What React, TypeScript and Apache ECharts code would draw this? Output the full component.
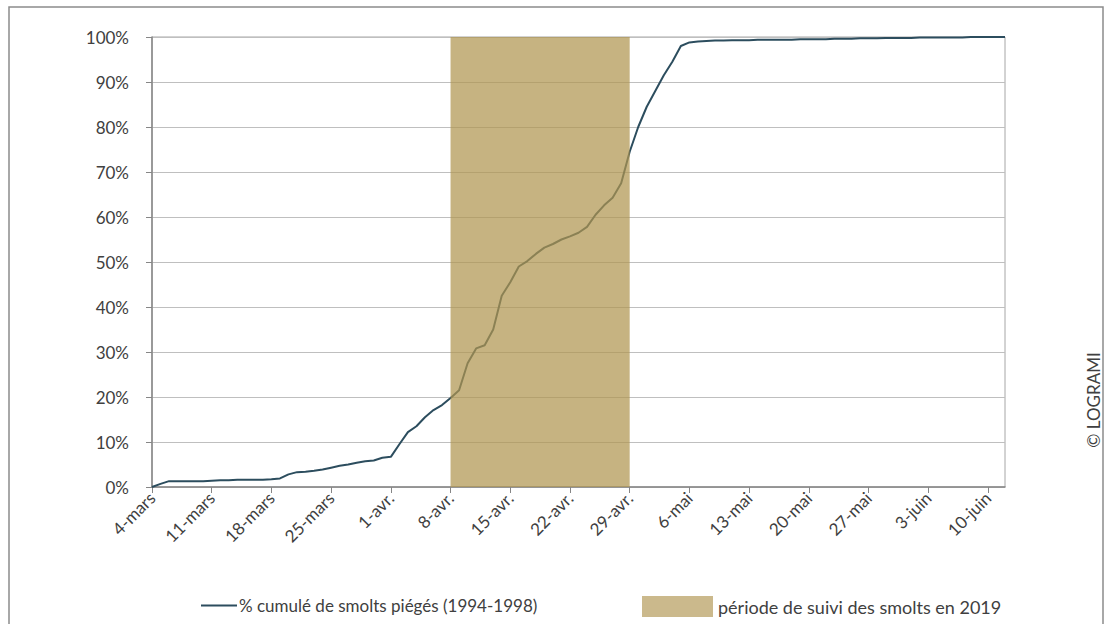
import React, { useEffect, useRef } from "react";
import * as echarts from "echarts";

// Months covered by the x axis (4 mars -> 12 juin)
const monthNames = ["mars", "avr.", "mai", "juin"];
const monthFirstDay = [4, 1, 1, 1];
const monthLastDay = [31, 30, 31, 12];

const categories: string[] = [];
monthNames.forEach((m, i) => {
  for (let d = monthFirstDay[i]; d <= monthLastDay[i]; d++) categories.push(`${d}-${m}`);
});

// Cumulative % of trapped smolts (1994-1998), one value per day
const cumulativePct = [
  0, 0.7, 1.3, 1.3, 1.3, 1.3, 1.3, 1.4, 1.5, 1.5,
  1.6, 1.6, 1.6, 1.6, 1.7, 1.9, 2.8, 3.3, 3.4, 3.6,
  3.9, 4.3, 4.7, 5.0, 5.4, 5.7, 5.9, 6.5, 6.7, 9.5,
  12.2, 13.5, 15.5, 17.1, 18.2, 19.8, 21.5, 27.5, 30.8, 31.5,
  35.0, 42.5, 45.5, 49.0, 50.2, 51.8, 53.2, 54.0, 55.0, 55.7,
  56.5, 57.8, 60.5, 62.6, 64.3, 67.5, 74.5, 80.0, 84.5, 88.0,
  91.5, 94.5, 98.0, 98.8, 99.0, 99.1, 99.2, 99.2, 99.3, 99.3,
  99.3, 99.4, 99.4, 99.4, 99.4, 99.4, 99.5, 99.5, 99.5, 99.5,
  99.6, 99.6, 99.6, 99.7, 99.7, 99.7, 99.8, 99.8, 99.8, 99.8,
  99.9, 99.9, 99.9, 99.9, 99.9, 99.9, 100, 100, 100, 100,
  100,
];

const bandStart = "8-avr.";
const bandEnd = "29-avr.";

const lineName = "% cumulé de smolts piégés (1994-1998)";
const bandName = "période de suivi des smolts en 2019";

const FONT = "Lato, 'Liberation Sans', sans-serif";
const TEXT = "#404040";
const LINE_COLOR = "#2c4d5e";
const BAND_COLOR = "rgba(176,150,80,0.72)";
const BAND_SOLID = "#cbb98c";

export default function App() {
  const ref = useRef<HTMLDivElement>(null);
  useEffect(() => {
    if (!ref.current) return;
    const chart = echarts.init(ref.current, undefined, { renderer: "svg" });
    chart.setOption({
      animation: false,
      backgroundColor: "#ffffff",
      textStyle: { fontFamily: FONT },
      grid: {
        left: 152,
        right: 100,
        top: 37,
        bottom: 137,
        show: true,
        borderColor: "#a6a6a6",
        borderWidth: 1,
      },
      xAxis: {
        type: "category",
        data: categories,
        boundaryGap: false,
        axisLine: { lineStyle: { color: "#868686", width: 1.5 } },
        axisTick: { interval: 6, length: 6, lineStyle: { color: "#868686" } },
        axisLabel: {
          interval: 6,
          rotate: 45,
          margin: 8,
          fontSize: 17,
          color: TEXT,
          fontFamily: FONT,
        },
        splitLine: { show: false },
      },
      yAxis: {
        type: "value",
        min: 0,
        max: 100,
        interval: 10,
        axisLine: { show: true, lineStyle: { color: "#868686", width: 1.5 } },
        axisTick: { show: true, length: 6, lineStyle: { color: "#868686" } },
        axisLabel: {
          formatter: "{value}%",
          fontSize: 17,
          color: TEXT,
          margin: 23,
          fontFamily: FONT,
        },
        splitLine: { lineStyle: { color: "#bfbfbf", width: 1 } },
      },
      legend: [
        {
          data: [{ name: lineName, icon: "rect", itemStyle: { color: LINE_COLOR } }],
          left: 196,
          top: 592,
          itemWidth: 36,
          itemHeight: 2,
          itemGap: 2,
          textStyle: { fontSize: 17, color: TEXT, fontFamily: FONT, padding: [0, 0, 0, -3] },
          selectedMode: false,
        },
        {
          data: [{ name: bandName, icon: "rect", itemStyle: { color: BAND_SOLID } }],
          left: 637,
          top: 591,
          itemWidth: 71,
          itemHeight: 21,
          textStyle: { fontSize: 18, color: TEXT, fontFamily: FONT },
          selectedMode: false,
        },
      ],
      series: [
        {
          name: lineName,
          type: "line",
          data: cumulativePct,
          showSymbol: false,
          symbol: "none",
          lineStyle: { color: LINE_COLOR, width: 2 },
          itemStyle: { color: LINE_COLOR },
          z: 2,
        },
        {
          name: bandName,
          type: "line",
          data: [],
          showSymbol: false,
          itemStyle: { color: BAND_SOLID },
          lineStyle: { color: BAND_SOLID },
          z: 5,
          markArea: {
            silent: true,
            z: 5,
            itemStyle: { color: BAND_COLOR },
            data: [[{ xAxis: bandStart }, { xAxis: bandEnd }]],
          },
        },
      ],
      graphic: [
        {
          type: "rect",
          silent: true,
          shape: { x: 9, y: 7, width: 1094, height: 625 },
          style: { fill: "none", stroke: "#8c8c8c", lineWidth: 1.5 },
          z: 0,
        },
        {
          type: "text",
          x: 1093,
          y: 400,
          rotation: Math.PI / 2,
          style: {
            text: "© LOGRAMI",
            fontSize: 17,
            fill: TEXT,
            fontFamily: FONT,
            align: "center",
            verticalAlign: "middle",
          },
        },
      ],
    });
    return () => chart.dispose();
  }, []);
  return (
    <div
      ref={ref}
      style={{ position: "fixed", left: 0, top: 0, width: 1105, height: 624 }}
    />
  );
}
